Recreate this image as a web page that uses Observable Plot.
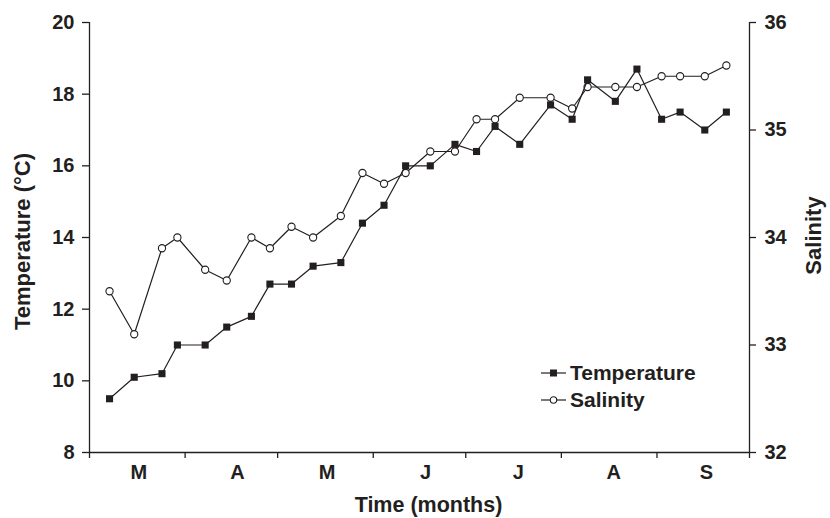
<!DOCTYPE html>
<html><head><meta charset="utf-8">
<script src="https://cdn.jsdelivr.net/npm/d3@7"></script>
<script src="https://cdn.jsdelivr.net/npm/@observablehq/plot@0.6"></script>
<style>
body{margin:0;background:#fff;}
#wrap{position:relative;width:830px;height:518px;font-family:"Liberation Sans",Arial,sans-serif;}
#legend{position:absolute;left:541px;top:359px;font-weight:bold;font-size:21px;color:#231f20;}
#legend .item{display:flex;align-items:center;height:27px;}
#legend svg{margin-right:4px;}
</style></head><body><div id="wrap"><div id="legend"></div></div>
<script>
const dates = ["2010-03-07","2010-03-15","2010-03-24","2010-03-29","2010-04-07","2010-04-14","2010-04-22","2010-04-28",
  "2010-05-05","2010-05-12","2010-05-21","2010-05-28","2010-06-04","2010-06-11","2010-06-19","2010-06-27",
  "2010-07-04","2010-07-10","2010-07-18","2010-07-28","2010-08-04","2010-08-09","2010-08-18","2010-08-25",
  "2010-09-02","2010-09-08","2010-09-16","2010-09-23"];
const temperature = [9.5,10.1,10.2,11.0,11.0,11.5,11.8,12.7,12.7,13.2,13.3,14.4,14.9,16.0,16.0,16.6,16.4,17.1,16.6,17.7,17.3,18.4,17.8,18.7,17.3,17.5,17.0,17.5];
const salinity = [33.5,33.1,33.9,34.0,33.7,33.6,34.0,33.9,34.1,34.0,34.2,34.6,34.5,34.6,34.8,34.8,35.1,35.1,35.3,35.3,35.2,35.4,35.4,35.4,35.5,35.5,35.5,35.6];
const tempDomain = [8, 20];
const salDomain = [32, 36];
const tempTicks = [8,10,12,14,16,18,20];
const salTicks = [32,33,34,35,36];
const monthStarts = ["2010-03-01","2010-04-01","2010-05-01","2010-06-01","2010-07-01","2010-08-01","2010-09-01","2010-10-01"];
const monthMids = ["2010-03-17","2010-04-18","2010-05-17","2010-06-18","2010-07-18","2010-08-18","2010-09-17"];
const monthLabels = ["M","A","M","J","J","A","S"];
const seriesNames = ["Temperature","Salinity"];

const ink = "#231f20";
const toDate = s => new Date(s + "T12:00:00Z");
const toStart = s => new Date(s + "T00:00:00Z");
const k = (tempDomain[1]-tempDomain[0])/(salDomain[1]-salDomain[0]);
const toT = s => tempDomain[0] + (s - salDomain[0]) * k;
const toS = t => salDomain[0] + (t - tempDomain[0]) / k;

const data = dates.map((d,i) => ({date: toDate(d), temp: temperature[i], sal: salinity[i]}));
const starts = monthStarts.map(toStart);
const mids = monthMids.map(toStart);
const x0 = starts[0], x1 = starts[starts.length-1];

const chart = Plot.plot({
  width: 830, height: 518,
  marginLeft: 89, marginRight: 81, marginTop: 22, marginBottom: 66,
  style: {fontFamily: '"Liberation Sans", Arial, sans-serif', fontSize: "20px", fontWeight: "bold", color: ink, background: "#fff"},
  x: {type: "utc", domain: [x0, x1]},
  y: {domain: tempDomain},
  marks: [
    Plot.ruleX([x0, x1], {stroke: ink, strokeWidth: 1.3}),
    Plot.ruleY([tempDomain[0]], {stroke: ink, strokeWidth: 1.3}),
    Plot.axisY(tempTicks, {anchor: "left", tickSize: 7, tickPadding: 8, label: null, strokeWidth: 1.3}),
    Plot.axisY(salTicks.map(toT), {anchor: "right", tickSize: 6, tickPadding: 9, label: null, strokeWidth: 1.3,
      tickFormat: t => String(Math.round(toS(t)))}),
    Plot.axisX(starts, {anchor: "bottom", tickSize: 6, tickFormat: () => "", label: null, strokeWidth: 1.3}),
    Plot.axisX(mids, {anchor: "bottom", tickSize: 0, tickPadding: 12, label: null,
      tickFormat: d => monthLabels[mids.findIndex(m => +m === +d)]}),
    Plot.text(["Temperature (°C)"], {frameAnchor: "left", dx: -67, dy: 4, rotate: -90, textAnchor: "middle", lineAnchor: "middle", fontSize: 22}),
    Plot.text(["Salinity"], {frameAnchor: "right", dx: 64, dy: -2, rotate: -90, textAnchor: "middle", lineAnchor: "middle", fontSize: 22}),
    Plot.text(["Time (months)"], {frameAnchor: "bottom", dx: 9, dy: 53, textAnchor: "middle", lineAnchor: "middle", fontSize: 21.5}),
    Plot.line(data, {x: "date", y: d => toT(d.sal), stroke: ink, strokeWidth: 1.2}),
    Plot.dot(data, {x: "date", y: d => toT(d.sal), symbol: "circle", r: 3.6, fill: "white", stroke: ink, strokeWidth: 1.1}),
    Plot.line(data, {x: "date", y: "temp", stroke: ink, strokeWidth: 1.2}),
    Plot.dot(data, {x: "date", y: "temp", symbol: "square", r: 4, fill: ink, stroke: "none"})
  ]
});
const wrap = document.getElementById("wrap");
wrap.insertBefore(chart, wrap.firstChild);

const legend = document.getElementById("legend");
const sw = [
  `<svg width="25" height="12"><line x1="0" x2="25" y1="6" y2="6" stroke="${ink}" stroke-width="1.2"/><rect x="9" y="2.5" width="7" height="7" fill="${ink}"/></svg>`,
  `<svg width="25" height="12"><line x1="0" x2="25" y1="6" y2="6" stroke="${ink}" stroke-width="1.2"/><circle cx="12.5" cy="6" r="3.2" fill="white" stroke="${ink}" stroke-width="1.1"/></svg>`
];
legend.innerHTML = seriesNames.map((n,i) => `<div class="item">${sw[i]}<span>${n}</span></div>`).join("");
</script>
</body></html>
